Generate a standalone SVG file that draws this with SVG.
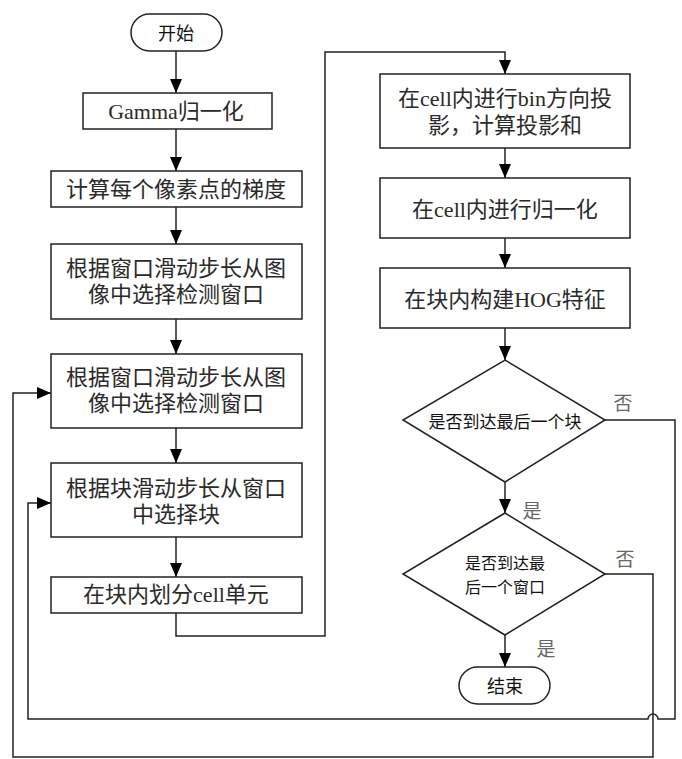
<svg xmlns="http://www.w3.org/2000/svg" width="682" height="759" viewBox="0 0 682 759">
<style>
.box{fill:#fff;stroke:#222;stroke-width:1.5}
.t{font-family:"Liberation Serif","Noto Sans CJK SC",serif;font-size:22px;fill:#2a2a2a;text-anchor:middle;dominant-baseline:central}
.s{font-family:"Noto Sans CJK SC","Liberation Sans",sans-serif;font-size:17px;fill:#111;text-anchor:middle;dominant-baseline:central}
.lb{font-family:"Noto Sans CJK SC","Liberation Sans",sans-serif;font-size:19px;fill:#666;text-anchor:middle;dominant-baseline:central}
.c{fill:none;stroke:#222;stroke-width:1.5}
</style>
<defs>
<marker id="ah" viewBox="0 0 14 12" refX="14" refY="6" markerWidth="14" markerHeight="12" orient="auto" markerUnits="userSpaceOnUse">
<path d="M0,0 L14,6 L0,12 z" fill="#000"/>
</marker>
</defs>
<g id="connectors">
<path class="c" d="M176,51 V93" marker-end="url(#ah)"/>
<path class="c" d="M176,129 V171" marker-end="url(#ah)"/>
<path class="c" d="M176,207 V244" marker-end="url(#ah)"/>
<path class="c" d="M176,319 V354" marker-end="url(#ah)"/>
<path class="c" d="M176,428 V463" marker-end="url(#ah)"/>
<path class="c" d="M176,537 V577" marker-end="url(#ah)"/>
<path class="c" d="M176,613 V636 H325 V52 H505 V74" marker-end="url(#ah)"/>
<path class="c" d="M505,148 V178" marker-end="url(#ah)"/>
<path class="c" d="M505,238 V268" marker-end="url(#ah)"/>
<path class="c" d="M505,328 V360" marker-end="url(#ah)"/>
<path class="c" d="M505,482 V513" marker-end="url(#ah)"/>
<path class="c" d="M505,635 V667" marker-end="url(#ah)"/>
<path class="c" d="M605,420 H675 V719 H658 A5,5 0 0 0 648,719 H28 V503 H51" marker-end="url(#ah)"/>
<path class="c" d="M605,574 H653 V757 H13 V393 H51" marker-end="url(#ah)"/>
<text class="lb" x="623" y="401">否</text>
<text class="lb" x="532" y="509">是</text>
<text class="lb" x="625" y="557">否</text>
<text class="lb" x="546" y="647">是</text>
</g>
<g id="start">
<rect class="box" x="131" y="14" width="91" height="37" rx="18.5"/>
<text class="s" x="176" y="32" style="font-size:18px">开始</text>
</g>
<g id="gamma">
<rect class="box" x="83" y="93" width="189" height="36"/>
<text class="t" x="176" y="111">Gamma归一化</text>
</g>
<g id="gradient">
<rect class="box" x="51" y="171" width="251" height="36"/>
<text class="t" x="176" y="189">计算每个像素点的梯度</text>
</g>
<g id="select1">
<rect class="box" x="51" y="244" width="251" height="75"/>
<text class="t" x="176" y="268">根据窗口滑动步长从图</text>
<text class="t" x="176" y="294">像中选择检测窗口</text>
</g>
<g id="select2">
<rect class="box" x="51" y="354" width="251" height="74"/>
<text class="t" x="176" y="377">根据窗口滑动步长从图</text>
<text class="t" x="176" y="403">像中选择检测窗口</text>
</g>
<g id="block">
<rect class="box" x="51" y="463" width="251" height="74"/>
<text class="t" x="176" y="488">根据块滑动步长从窗口</text>
<text class="t" x="176" y="514">中选择块</text>
</g>
<g id="cells">
<rect class="box" x="51" y="577" width="251" height="36"/>
<text class="t" x="176" y="594">在块内划分cell单元</text>
</g>
<g id="bin">
<rect class="box" x="380" y="74" width="250" height="74"/>
<text class="t" x="505" y="98">在cell内进行bin方向投</text>
<text class="t" x="505" y="125">影，计算投影和</text>
</g>
<g id="cellnorm">
<rect class="box" x="380" y="178" width="250" height="60"/>
<text class="t" x="505" y="209">在cell内进行归一化</text>
</g>
<g id="hog">
<rect class="box" x="380" y="268" width="250" height="60"/>
<text class="t" x="505" y="299">在块内构建HOG特征</text>
</g>
<g id="lastblock">
<polygon class="box" points="505,360 605,420 505,482 403,420"/>
<text class="s" x="505" y="420">是否到达最后一个块</text>
</g>
<g id="lastwindow">
<polygon class="box" points="505,513 605,574 505,635 403,574"/>
<text class="s" x="505" y="562" style="font-size:16px">是否到达最</text>
<text class="s" x="505" y="586" style="font-size:16px">后一个窗口</text>
</g>
<g id="end">
<rect class="box" x="459" y="667" width="91" height="37" rx="18.5"/>
<text class="s" x="505" y="685" style="font-size:18px">结束</text>
</g>
</svg>
